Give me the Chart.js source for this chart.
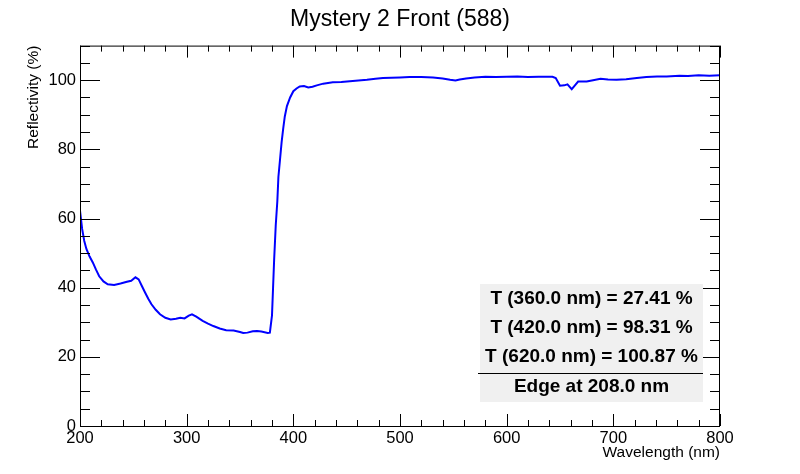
<!DOCTYPE html>
<html>
<head>
<meta charset="utf-8">
<script src="https://cdn.jsdelivr.net/npm/chart.js@4.4.0/dist/chart.umd.min.js"></script>
<style>
  html, body { margin: 0; padding: 0; background: #fff; }
  canvas { display: block; }
</style>
</head>
<body>
<canvas id="myChart" width="800" height="474"></canvas>
<script>
const FONT = '"Liberation Sans", Arial, Helvetica, sans-serif';

// spectrum (nm, %)
const wavelengths = [
  200, 202, 204, 206, 209, 212, 215, 218, 222, 226, 232, 238, 244, 248, 252, 255, 258, 261, 264, 267,
  271, 275, 280, 285, 290, 294, 298, 302, 305, 309, 315, 320, 325, 331, 337, 344, 350, 353, 357, 362,
  366, 370, 376, 378, 380, 381, 382, 383.5, 385, 386, 387.5, 389, 390.5, 392, 394, 397, 400, 403, 406, 410,
  414, 418, 422, 428, 437, 445, 453, 461, 469, 477, 484, 492, 500, 509, 520, 531, 540, 547, 552, 556,
  562, 570, 580, 590, 600, 610, 620, 630, 643, 646, 650, 654, 657, 661, 664, 667, 675, 681, 688, 695,
  703, 712, 722, 731, 741, 750, 762, 770, 780, 790, 800
];
const reflectivity = [
  62.3, 57.0, 53.5, 51.2, 49.0, 47.3, 45.2, 43.3, 41.8, 41.0, 40.8, 41.2, 41.7, 42.0, 43.0, 42.4, 40.5, 38.6, 36.8, 35.2,
  33.6, 32.3, 31.3, 30.8, 31.0, 31.3, 31.1, 31.9, 32.3, 31.6, 30.4, 29.6, 28.9, 28.2, 27.7, 27.6, 27.2, 26.9, 27.0, 27.4,
  27.5, 27.3, 26.9, 27.0, 32.0, 40.0, 48.0, 58.0, 65.0, 72.0, 77.0, 82.0, 86.0, 89.5, 92.5, 95.0, 96.8, 97.6, 98.2, 98.3,
  97.9, 98.1, 98.5, 99.0, 99.4, 99.5, 99.7, 99.9, 100.1, 100.4, 100.6, 100.7, 100.8, 100.9, 100.9, 100.8, 100.5, 100.1, 99.9, 100.2,
  100.5, 100.8, 101.0, 100.9, 101.0, 101.1, 100.9, 101.0, 101.0, 100.6, 98.4, 98.5, 98.8, 97.4, 98.5, 99.6, 99.6, 100.0, 100.4, 100.2,
  100.1, 100.3, 100.6, 100.9, 101.1, 101.1, 101.3, 101.2, 101.4, 101.3, 101.4
];

const xRange = [200, 800];
const yRange = [0, 110];
const legendLines = [
  'T (360.0 nm) = 27.41 %',
  'T (420.0 nm) = 98.31 %',
  'T (620.0 nm) = 100.87 %',
  'Edge at 208.0 nm'
];

// ROOT style frame: box + inward ticks on all four sides, then the stats pave
const rootFrame = {
  id: 'rootFrame',
  afterDraw(chart) {
    const ctx = chart.ctx;
    const a = chart.chartArea;
    const xs = chart.scales.x, ys = chart.scales.y;
    ctx.save();
    ctx.strokeStyle = '#000';
    ctx.lineWidth = 1;
    ctx.strokeRect(a.left + 0.5, a.top + 0.5, a.right - a.left - 1, a.bottom - a.top);

    ctx.beginPath();
    for (let v = xRange[0]; v <= xRange[1]; v += 20) {
      const px = Math.round(xs.getPixelForValue(v)) + 0.5;
      const len = v % 100 === 0 ? 12 : 6;
      ctx.moveTo(px, a.bottom); ctx.lineTo(px, a.bottom - len);
      ctx.moveTo(px, a.top); ctx.lineTo(px, a.top + len);
    }
    for (let v = yRange[0]; v <= yRange[1]; v += 5) {
      const py = Math.round(ys.getPixelForValue(v)) + 0.5;
      const len = v % 20 === 0 ? 20 : 10;
      ctx.moveTo(a.left, py); ctx.lineTo(a.left + len, py);
      ctx.moveTo(a.right, py); ctx.lineTo(a.right - len, py);
    }
    ctx.stroke();

    // stats box
    const bx = 480, by = 284, bw = 223, bh = 118;
    ctx.fillStyle = '#f0f0f0';
    ctx.fillRect(bx, by, bw, bh);
    ctx.beginPath();
    ctx.moveTo(bx - 2, 373.5); ctx.lineTo(bx + bw, 373.5);
    ctx.stroke();
    ctx.fillStyle = '#000';
    ctx.font = 'bold 19px ' + FONT;
    ctx.textAlign = 'center';
    ctx.textBaseline = 'middle';
    const rows = [299, 328, 357, 387];
    legendLines.forEach((t, i) => ctx.fillText(t, bx + bw / 2, rows[i]));
    ctx.restore();
  }
};

const points = wavelengths.map((w, i) => ({ x: w, y: reflectivity[i] }));

new Chart(document.getElementById('myChart'), {
  type: 'line',
  data: {
    datasets: [{
      data: points,
      borderColor: '#0000ff',
      borderWidth: 2,
      pointRadius: 0,
      tension: 0,
      fill: false
    }]
  },
  options: {
    responsive: false,
    animation: false,
    devicePixelRatio: 1,
    layout: { padding: 0 },
    plugins: {
      legend: { display: false },
      tooltip: { enabled: false },
      title: {
        display: true,
        text: 'Mystery 2 Front (588)',
        color: '#000',
        font: { family: FONT, size: 23, weight: 'normal' },
        padding: { top: 6, bottom: 12 }
      }
    },
    scales: {
      x: {
        type: 'linear',
        min: xRange[0],
        max: xRange[1],
        grid: { display: false, drawTicks: false },
        border: { display: false },
        ticks: { stepSize: 100, color: '#000', font: { family: FONT, size: 16.5 }, padding: 3, maxRotation: 0 },
        title: { display: true, text: 'Wavelength (nm)', align: 'end', color: '#000', font: { family: FONT, size: 15.5 }, padding: { top: 0, bottom: 12 } },
        afterFit: s => { s.height = 48; }
      },
      y: {
        min: yRange[0],
        max: yRange[1],
        grid: { display: false, drawTicks: false },
        border: { display: false },
        ticks: { stepSize: 20, includeBounds: false, color: '#000', font: { family: FONT, size: 16.5 }, padding: 4 },
        title: { display: true, text: 'Reflectivity (%)', align: 'end', color: '#000', font: { family: FONT, size: 15.5 }, padding: { top: 24, bottom: 0 } },
        afterFit: s => { s.width = 80; }
      },
      // empty right axis so the plot frame ends at 720 and the title stays centred on the canvas
      yRight: {
        position: 'right',
        min: yRange[0],
        max: yRange[1],
        grid: { display: false, drawTicks: false },
        border: { display: false },
        ticks: { display: false },
        afterFit: s => { s.width = 80; }
      }
    }
  },
  plugins: [rootFrame]
});
</script>
</body>
</html>
